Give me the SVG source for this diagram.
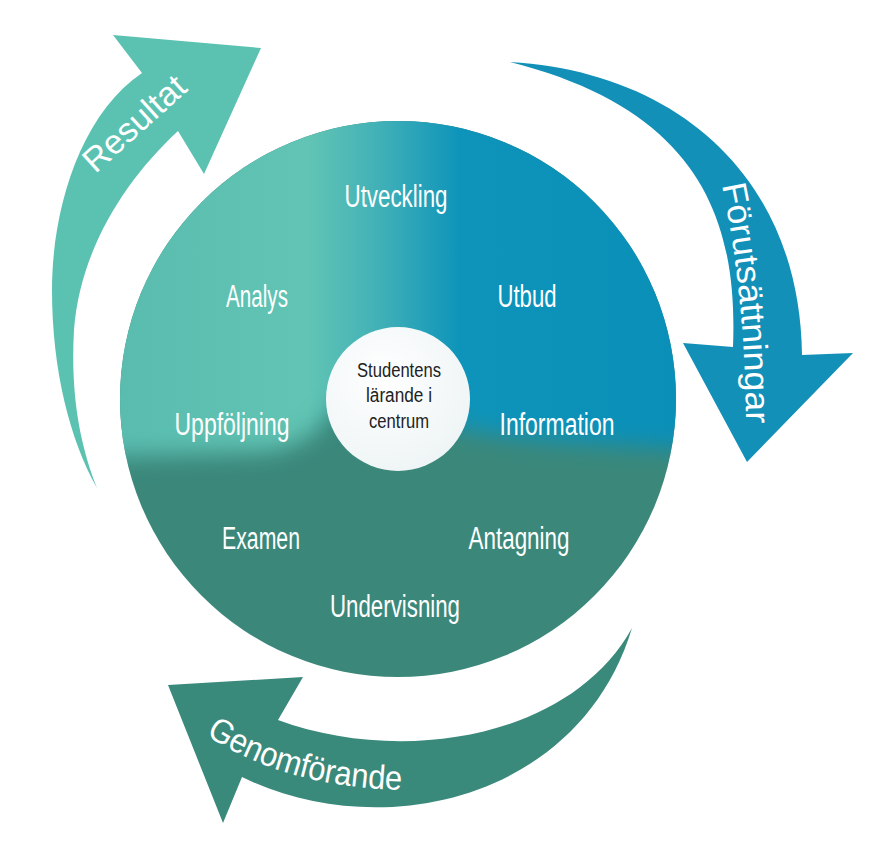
<svg xmlns="http://www.w3.org/2000/svg" width="872" height="848" viewBox="0 0 872 848">
  <defs>
    <linearGradient id="topGrad" gradientUnits="userSpaceOnUse" x1="120" y1="0" x2="676" y2="0">
      <stop offset="0" stop-color="#59bcae"/>
      <stop offset="0.34" stop-color="#61c4b4"/>
      <stop offset="0.47" stop-color="#40b0b7"/>
      <stop offset="0.61" stop-color="#0e94ba"/>
      <stop offset="1" stop-color="#0a8fb8"/>
    </linearGradient>
    <filter id="soft" x="-0.1" y="-0.1" width="1.2" height="1.2">
      <feGaussianBlur stdDeviation="11"/>
    </filter>
    <mask id="topMask" maskUnits="userSpaceOnUse" x="0" y="0" width="872" height="848">
      <path fill="#fff" filter="url(#soft)" d="M 0,0 H 872 V 448 L 700,450 C 600,444 510,440 470,430 L 340,400 C 320,432 300,448 262,452 L 0,460 Z"/>
    </mask>
    <radialGradient id="innerGrad" cx="0.4" cy="0.35" r="0.7">
      <stop offset="0" stop-color="#ffffff"/>
      <stop offset="1" stop-color="#eef4f5"/>
    </radialGradient>
    <path id="pathGen" d="M 206,735 Q 285,787 402,790"/>
    <path id="pathFor" d="M 722,185 Q 746,300 746,428"/>
  </defs>
  <style>
    .lbl { font-family: "Liberation Sans", Arial, sans-serif; font-size: 31px; fill: #ffffff; text-anchor: middle; }
    .ctr { font-family: "Liberation Sans", Arial, sans-serif; font-size: 20px; fill: #222222; text-anchor: middle; }
    .arw { font-family: "Liberation Sans", Arial, sans-serif; font-size: 34px; fill: #ffffff; }
  </style>

  <g id="connectors">
    <g id="arrow-resultat">
      <path fill="#5bc2b2" d="M 97,488 C 70,440 52,370 52,290 C 52,210 80,115 142,73 L 113,35 L 261,48 L 204,174 L 178,131 C 125,180 80,250 74,330 C 70,400 82,450 97,488 Z"/>
      <text class="arw" text-anchor="middle" textLength="126" lengthAdjust="spacingAndGlyphs" transform="translate(142,132) rotate(-42)">Resultat</text>
    </g>
    <g id="arrow-forutsattningar">
      <path fill="#1290b8" d="M 510,62 C 680,72 800,180 802,355 L 853,353 L 747,462 L 683,343 L 733,347 C 738,220 700,110 510,62 Z"/>
      <text class="arw"><textPath href="#pathFor" textLength="240" lengthAdjust="spacingAndGlyphs">Förutsättningar</textPath></text>
    </g>
    <g id="arrow-genomforande">
      <path fill="#3a8a7c" d="M 632,628 C 570,740 400,765 278,720 L 303,677 L 168,685 L 223,823 L 242,777 C 380,845 580,800 632,628 Z"/>
      <text class="arw"><textPath href="#pathGen" textLength="206" lengthAdjust="spacingAndGlyphs">Genomförande</textPath></text>
    </g>
  </g>

  <g id="wheel">
    <circle cx="398" cy="399" r="278" fill="#3b887b"/>
    <circle cx="398" cy="399" r="278" fill="url(#topGrad)" mask="url(#topMask)"/>
  </g>

  <g id="node-utveckling"><text class="lbl" x="396" y="207" textLength="103" lengthAdjust="spacingAndGlyphs">Utveckling</text></g>
  <g id="node-analys"><text class="lbl" x="257" y="307" textLength="62" lengthAdjust="spacingAndGlyphs">Analys</text></g>
  <g id="node-utbud"><text class="lbl" x="527" y="307" textLength="59" lengthAdjust="spacingAndGlyphs">Utbud</text></g>
  <g id="node-uppfoljning"><text class="lbl" x="232" y="435" textLength="115" lengthAdjust="spacingAndGlyphs">Uppföljning</text></g>
  <g id="node-information"><text class="lbl" x="557" y="435" textLength="115" lengthAdjust="spacingAndGlyphs">Information</text></g>
  <g id="node-examen"><text class="lbl" x="261" y="549" textLength="78" lengthAdjust="spacingAndGlyphs">Examen</text></g>
  <g id="node-antagning"><text class="lbl" x="519" y="549" textLength="101" lengthAdjust="spacingAndGlyphs">Antagning</text></g>
  <g id="node-undervisning"><text class="lbl" x="395" y="617" textLength="130" lengthAdjust="spacingAndGlyphs">Undervisning</text></g>

  <g id="node-center">
    <circle cx="398" cy="399" r="72" fill="url(#innerGrad)"/>
    <text class="ctr" x="399" y="377" textLength="84" lengthAdjust="spacingAndGlyphs">Studentens</text>
    <text class="ctr" x="399" y="402" textLength="66" lengthAdjust="spacingAndGlyphs">lärande i</text>
    <text class="ctr" x="399" y="428" textLength="60" lengthAdjust="spacingAndGlyphs">centrum</text>
  </g>
</svg>
